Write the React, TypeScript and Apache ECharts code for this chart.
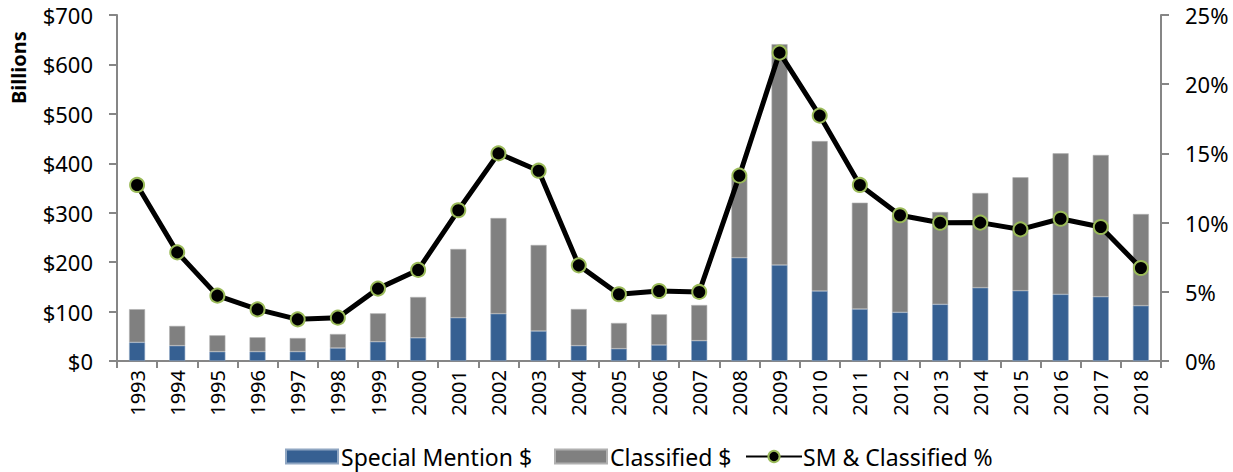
import React, { useEffect, useRef } from "react";
import * as echarts from "echarts";

const years = ["1993","1994","1995","1996","1997","1998","1999","2000","2001","2002","2003","2004","2005","2006","2007","2008","2009","2010","2011","2012","2013","2014","2015","2016","2017","2018"];
const specialMention = [37.8, 31, 18.9, 19, 19, 26.3, 39, 47, 87.6, 95.7, 60.7, 31, 24.9, 32.4, 41.1, 209, 194.2, 141.6, 105.2, 98.5, 114.7, 148.3, 142.2, 134.9, 130.1, 111.9];
const classified = [67, 40, 33.1, 29, 27.5, 28.3, 57.5, 82.5, 139, 193.6, 174, 74.2, 52, 62, 72.2, 163, 446.8, 303.4, 215.1, 197.5, 186.7, 191.6, 229.4, 285.3, 286.7, 185.5];
const smClassifiedPct = [12.72, 7.85, 4.72, 3.73, 3.01, 3.13, 5.23, 6.58, 10.89, 15.0, 13.75, 6.91, 4.82, 5.06, 4.99, 13.39, 22.28, 17.73, 12.72, 10.53, 9.99, 10.0, 9.51, 10.28, 9.68, 6.72];

const FONT = "Noto Sans";
const AXIS_COLOR = "#868686";
const legendText = { fontFamily: FONT, fontSize: 23, color: "#000" };

export default function App() {
  const ref = useRef<HTMLDivElement>(null);
  useEffect(() => {
    if (!ref.current) return;
    const chart = echarts.init(ref.current, undefined, { renderer: "svg" });
    chart.setOption({
      animation: false,
      textStyle: { fontFamily: FONT, color: "#000" },
      grid: { left: 117, right: 72, top: 15, bottom: 111, containLabel: false },
      legend: [
        {
          left: 285,
          top: 445,
          padding: 0,
          itemWidth: 52,
          itemHeight: 14,
          icon: "rect",
          textStyle: { ...legendText, padding: [0, 0, 0, -2] },
          data: ["Special Mention $"],
        },
        {
          left: 554,
          top: 445,
          padding: 0,
          itemWidth: 52,
          itemHeight: 14,
          icon: "rect",
          textStyle: { ...legendText, padding: [0, 0, 0, -2] },
          data: ["Classified $"],
        },
        {
          left: 745,
          top: 445,
          padding: 0,
          itemWidth: 56,
          itemHeight: 14,
          textStyle: { ...legendText, padding: [0, 0, 0, -4] },
          data: ["SM & Classified %"],
        },
      ],
      graphic: [
        {
          type: "text",
          x: 8,
          y: 104,
          rotation: Math.PI / 2,
          style: { text: "Billions", font: `bold 20px ${FONT}`, fill: "#000" },
        },
      ],
      xAxis: {
        type: "category",
        data: years,
        boundaryGap: true,
        axisLine: { lineStyle: { color: AXIS_COLOR, width: 2 } },
        axisTick: { show: true, alignWithLabel: false, length: 7, lineStyle: { color: AXIS_COLOR, width: 2 } },
        axisLabel: { rotate: 90, fontSize: 20, color: "#000", margin: 9, fontFamily: FONT },
      },
      yAxis: [
        {
          type: "value",
          min: 0,
          max: 700,
          interval: 100,
          position: "left",
          splitLine: { show: false },
          axisLine: { show: true, lineStyle: { color: AXIS_COLOR, width: 2 } },
          axisTick: { show: true, length: 8, lineStyle: { color: AXIS_COLOR, width: 2 } },
          axisLabel: { formatter: "${value}", fontSize: 22, color: "#000", margin: 24, fontFamily: FONT },
        },
        {
          type: "value",
          min: 0,
          max: 25,
          interval: 5,
          position: "right",
          splitLine: { show: false },
          axisLine: { show: true, lineStyle: { color: AXIS_COLOR, width: 2 } },
          axisTick: { show: true, length: 8, lineStyle: { color: AXIS_COLOR, width: 2 } },
          axisLabel: { formatter: "{value}%", fontSize: 22, color: "#000", margin: 24, fontFamily: FONT },
        },
      ],
      series: [
        {
          name: "Special Mention $",
          type: "bar",
          stack: "total",
          barWidth: 16,
          data: specialMention,
          itemStyle: { color: "#366092", borderColor: "#8fa6c2", borderWidth: 0.6 },
        },
        {
          name: "Classified $",
          type: "bar",
          stack: "total",
          barWidth: 16,
          data: classified,
          itemStyle: { color: "#808080", borderColor: "#b0b0b0", borderWidth: 0.6 },
        },
        {
          name: "SM & Classified %",
          type: "line",
          yAxisIndex: 1,
          data: smClassifiedPct,
          symbol: "circle",
          symbolSize: 14,
          lineStyle: { color: "#000", width: 5 },
          itemStyle: { color: "#000", borderColor: "#9BBB59", borderWidth: 2 },
          z: 5,
        },
      ],
    });
    return () => chart.dispose();
  }, []);
  return (
    <div
      ref={ref}
      style={{ position: "fixed", left: 0, top: 0, width: 1233, height: 472, background: "#fff" }}
    />
  );
}
